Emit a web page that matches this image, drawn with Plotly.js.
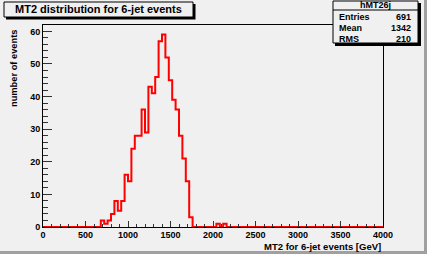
<!DOCTYPE html>
<html>
<head>
<meta charset="utf-8">
<script src="https://cdn.plot.ly/plotly-3.0.1.min.js"></script>
<style>html,body{margin:0;padding:0;background:#f0f0f0;}#chart{width:427px;height:254px;}</style>
</head>
<body>
<div id="chart"></div>
<script>
// ---- data (100 bins of 40 GeV from 0 to 4000) ----
const histName = "hMT26j";
const chartTitle = "MT2 distribution for 6-jet events";
const xTitle = "MT2 for 6-jet events [GeV]";
const yTitle = "number of events";
const xMin = 0, xMax = 4000, nBins = 100;
const counts = [
  0,0,0,0,0,0,0,0,0,0, 0,0,0,0,0,0,0,2,1,2,
  4,8,5,8,16,14,24,28,28,36, 29,43,41,46,57,59,52,45,39,36,
  28,21,14,3,0,0,0,0,0,0, 0,1,0,1,0,0,0,0,0,0,
  0,0,0,0,0,0,0,0,0,0, 0,0,0,0,0,0,0,0,0,0,
  0,0,0,0,0,0,0,0,0,0, 0,0,0,0,0,0,0,0,0,0
];
const statLabels = ["Entries", "Mean", "RMS"];
const statValues = ["691", "1342", "210"];
const xTickVals = [0,500,1000,1500,2000,2500,3000,3500,4000];
const yTickVals = [0,10,20,30,40,50,60];

// ---- build step outline ----
const bw = (xMax - xMin) / nBins;
const xs = [], ys = [];
for (let i = 0; i <= nBins; i++) {
  xs.push(xMin + i * bw);
  ys.push(i < nBins ? counts[i] : counts[nBins - 1]);
}

// ---- pixel helpers for decorations ----
const W = 427, H = 254;
const mL = 43, mR = 44, mT = 25, mB = 27;
const pw = W - mL - mR, ph = H - mT - mB;
const px = x => (x - mL) / pw;
const py = y => (H - mB - y) / ph;

const BG = "#f0f0f0";
const FONT = "Liberation Sans, Arial, sans-serif";
const bold = (size) => ({family: FONT, size: size, color: "#000", weight: "bold"});

const shapes = [
  // canvas bevel
  {type:"rect", xref:"paper", yref:"paper", x0:px(424), x1:px(427), y0:py(0), y1:py(254), fillcolor:"#a0a0a0", line:{width:0}, layer:"below"},
  {type:"rect", xref:"paper", yref:"paper", x0:px(0), x1:px(427), y0:py(251), y1:py(254), fillcolor:"#a0a0a0", line:{width:0}, layer:"below"},
  // title box shadow + box
  {type:"rect", xref:"paper", yref:"paper", x0:px(6), x1:px(195.5), y0:py(4), y1:py(19.5), fillcolor:"#000", line:{width:0}},
  {type:"rect", xref:"paper", yref:"paper", x0:px(4), x1:px(193), y0:py(2), y1:py(17), fillcolor:BG, line:{color:"#000", width:1}},
  // stats box shadow + box
  {type:"rect", xref:"paper", yref:"paper", x0:px(335), x1:px(421), y0:py(3), y1:py(46), fillcolor:"#000", line:{width:0}},
  {type:"rect", xref:"paper", yref:"paper", x0:px(333), x1:px(418), y0:py(1), y1:py(43), fillcolor:BG, line:{color:"#000", width:1}},
  {type:"line", xref:"paper", yref:"paper", x0:px(333), x1:px(418), y0:py(10), y1:py(10), line:{color:"#000", width:1}}
];

const annotations = [
  {xref:"paper", yref:"paper", x:px(98.5), y:py(9.5), text:chartTitle, showarrow:false, xanchor:"center", yanchor:"middle", font:bold(11)},
  {xref:"paper", yref:"paper", x:px(375.5), y:py(5.5), text:histName, showarrow:false, xanchor:"center", yanchor:"middle", font:bold(9)},
  {xref:"paper", yref:"paper", x:1, y:py(246), text:xTitle, showarrow:false, xanchor:"right", yanchor:"middle", font:bold(9.5)},
  {xref:"paper", yref:"paper", x:px(14), y:py(27), text:yTitle, textangle:-90, showarrow:false, xanchor:"center", yanchor:"top", font:bold(9.3)}
];
const rowY = [17, 28, 39];
statLabels.forEach((lab, i) => {
  annotations.push({xref:"paper", yref:"paper", x:px(337), y:py(rowY[i]), text:lab, showarrow:false, xanchor:"left", yanchor:"middle", font:bold(9)});
  annotations.push({xref:"paper", yref:"paper", x:px(413), y:py(rowY[i]), text:statValues[i], showarrow:false, xanchor:"right", yanchor:"middle", font:bold(9)});
});

const trace = {
  type:"scatter", mode:"lines", x:xs, y:ys,
  line:{shape:"hv", color:"#ff0000", width:2},
  hoverinfo:"skip"
};

const layout = {
  width:W, height:H,
  margin:{l:mL, r:mR, t:mT, b:mB, pad:0},
  paper_bgcolor:BG, plot_bgcolor:BG,
  showlegend:false,
  xaxis:{
    range:[xMin, xMax], tickvals:xTickVals, ticktext:xTickVals.map(String),
    ticks:"inside", ticklen:6, tickcolor:"#333", tickwidth:1,
    minor:{dtick:100, ticks:"inside", ticklen:3, tickcolor:"#333", tickwidth:1},
    showline:true, linecolor:"#000", linewidth:1, mirror:true,
    showgrid:false, zeroline:false, tickfont:bold(9), ticklabelstandoff:-1
  },
  yaxis:{
    range:[0, 61.95], tickvals:yTickVals, ticktext:yTickVals.map(String),
    ticks:"inside", ticklen:9, tickcolor:"#333", tickwidth:1,
    minor:{dtick:2, ticks:"inside", ticklen:4.5, tickcolor:"#333", tickwidth:1},
    showline:true, linecolor:"#000", linewidth:1, mirror:true,
    showgrid:false, zeroline:false, tickfont:bold(9)
  },
  shapes:shapes,
  annotations:annotations
};

Plotly.newPlot("chart", [trace], layout, {staticPlot:true, displayModeBar:false});
</script>
</body>
</html>
